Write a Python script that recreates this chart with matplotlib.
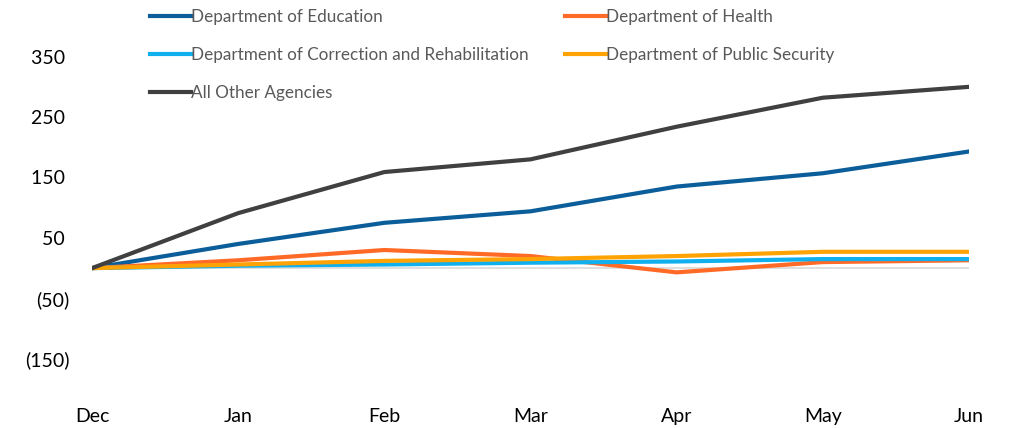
import matplotlib
matplotlib.use("Agg")
import matplotlib.pyplot as plt

plt.rcParams['font.family'] = ['Lato', 'DejaVu Sans']

months = ["Dec", "Jan", "Feb", "Mar", "Apr", "May", "Jun"]
education = [0, 40, 75, 94, 135, 157, 193]
health = [0, 13, 30, 20, -7, 10, 13]
correction = [0, 4, 6, 9, 11, 15, 15]
public_security = [0, 6, 12, 15, 20, 27, 27]
other = [0, 91, 159, 180, 234, 282, 300]

yticks = [350, 250, 150, 50, -50, -150]
ytick_labels = ["350 ", "250 ", "150 ", "50 ", "(50)", "(150)"]

colors = {
    "edu": "#0B5E9A",
    "health": "#FF6A26",
    "corr": "#10B0EE",
    "pub": "#FFA305",
    "other": "#404040",
}

fig = plt.figure(figsize=(10.09, 4.28), dpi=100)
ax = fig.add_axes([92/1009, 1-389/428, (969-92)/1009, (389-26.4)/428])

x = list(range(len(months)))
ax.axhline(0, color="#D9D9D9", lw=1.2, zorder=1)
lw = 3.0
l_edu, = ax.plot(x, education, color=colors["edu"], lw=lw, label="Department of Education", zorder=3)
l_health, = ax.plot(x, health, color=colors["health"], lw=lw, label="Department of Health", zorder=3)
l_corr, = ax.plot(x, correction, color=colors["corr"], lw=lw, label="Department of Correction and Rehabilitation", zorder=3)
l_pub, = ax.plot(x, public_security, color=colors["pub"], lw=lw, label="Department of Public Security", zorder=3)
l_other, = ax.plot(x, other, color=colors["other"], lw=lw, label="All Other Agencies", zorder=3)

ax.set_xlim(0, 6)
ax.set_ylim(-200, 400)
ax.set_xticks(x)
ax.set_xticklabels(months)
ax.set_yticks(yticks)
ax.set_yticklabels(ytick_labels)
ax.tick_params(axis='both', length=0, labelsize=14, colors="black")
ax.tick_params(axis='y', pad=16)
ax.tick_params(axis='x', pad=14)
for s in ax.spines.values():
    s.set_visible(False)

leg_kw = dict(frameon=False, fontsize=12.3, handlelength=2.4, handletextpad=0.0,
              labelspacing=1.3, borderpad=0, borderaxespad=0, loc='upper left', labelcolor="#595959")
fig.legend(handles=[l_edu, l_corr, l_other], bbox_to_anchor=(150/1009, 1-9/428), **leg_kw)
fig.legend(handles=[l_health, l_pub], bbox_to_anchor=(565/1009, 1-9/428), **leg_kw)

fig.savefig("out.png", dpi=100)
